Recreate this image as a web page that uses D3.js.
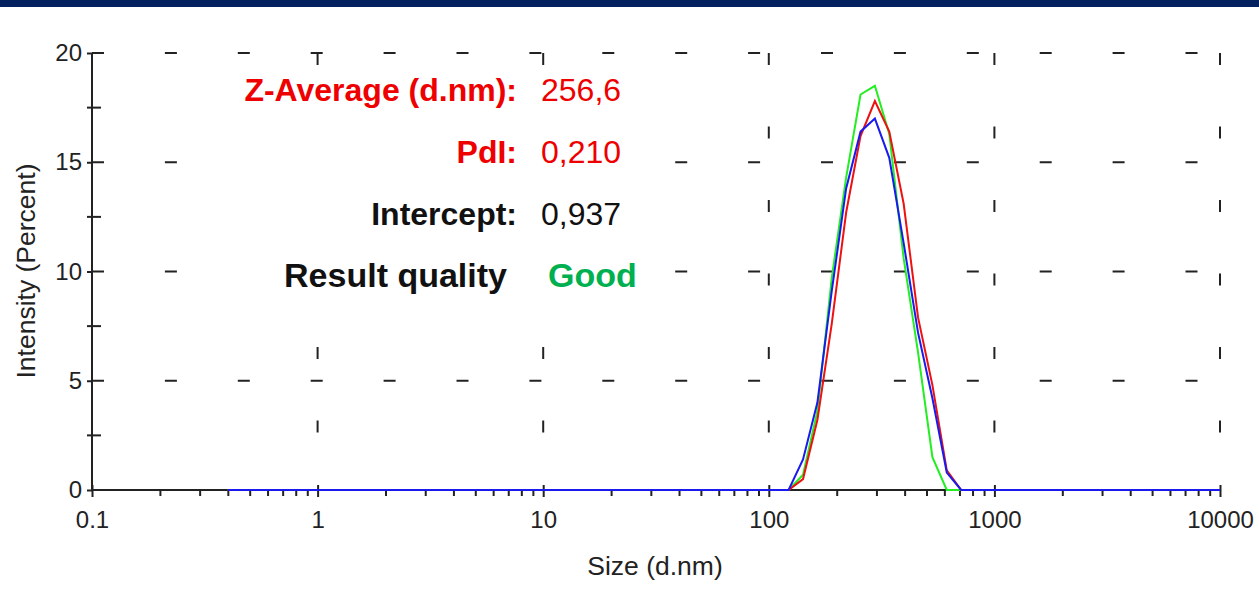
<!DOCTYPE html>
<html>
<head>
<meta charset="utf-8">
<script src="https://cdnjs.cloudflare.com/ajax/libs/d3/7.8.5/d3.min.js"></script>
<style>
  html, body { margin: 0; padding: 0; background: #fff; }
  svg { display: block; font-family: "Liberation Sans", Arial, Helvetica, sans-serif; }
</style>
</head>
<body>
<div id="chart"></div>
<script>
const W = 1259, H = 592;

// size classes (d.nm)
const sizes = [
  0.4, 0.4632, 0.5365, 0.6213, 0.7195, 0.8332, 0.9649, 1.117, 1.294, 1.499,
  1.736, 2.01, 2.328, 2.696, 3.122, 3.615, 4.187, 4.849, 5.615, 6.503,
  7.531, 8.721, 10.1, 11.7, 13.54, 15.69, 18.17, 21.04, 24.36, 28.21,
  32.67, 37.84, 43.82, 50.75, 58.77, 68.06, 78.82, 91.28, 105.7, 122.4,
  141.8, 164.2, 190.1, 220.2, 255, 295.3, 342, 396.1, 458.7, 531.2,
  615.1, 712.4, 825, 955.4, 1106, 1281, 1484, 1718, 1990, 2305,
  2669, 3091, 3580, 4145, 4801, 5560, 6439, 7456, 8635, 10000
];

// intensity (percent), one record each
const greenRun = [
  0,0,0,0,0,0,0,0,0,0, 0,0,0,0,0,0,0,0,0,0,
  0,0,0,0,0,0,0,0,0,0, 0,0,0,0,0,0,0,0,0,0,
  0.7, 3.6, 9.7, 14.3, 18.1, 18.5, 16.3, 10.6, 6.3, 1.5,
  0, 0, 0,0,0,0,0,0,0,0, 0,0,0,0,0,0,0,0,0,0
];
const redRun = [
  0,0,0,0,0,0,0,0,0,0, 0,0,0,0,0,0,0,0,0,0,
  0,0,0,0,0,0,0,0,0,0, 0,0,0,0,0,0,0,0,0,0,
  0.5, 3.2, 7.6, 12.7, 16.2, 17.8, 16.4, 13.1, 7.9, 4.8,
  0.9, 0, 0,0,0,0,0,0,0,0, 0,0,0,0,0,0,0,0,0,0
];
const blueRun = [
  0,0,0,0,0,0,0,0,0,0, 0,0,0,0,0,0,0,0,0,0,
  0,0,0,0,0,0,0,0,0,0, 0,0,0,0,0,0,0,0,0,0,
  1.4, 4.0, 9.1, 13.8, 16.4, 17.0, 15.2, 11.3, 7.2, 4.2,
  0.8, 0, 0,0,0,0,0,0,0,0, 0,0,0,0,0,0,0,0,0,0
];

const xTicks = [0.1, 1, 10, 100, 1000, 10000];
const xTickLabels = ["0.1", "1", "10", "100", "1000", "10000"];
const yTicks = [0, 5, 10, 15, 20];
const yMinor = [2.5, 7.5, 12.5, 17.5];

const resultLabels = ["Z-Average (d.nm):", "PdI:", "Intercept:", "Result quality"];
const resultValues = ["256,6", "0,210", "0,937", "Good"];

const plotL = 92, plotR = 1220, plotT = 53, plotB = 490;

const svg = d3.select("#chart").append("svg")
  .attr("width", W).attr("height", H);

// title bar
svg.append("rect").attr("x", 0).attr("y", 0).attr("width", W).attr("height", 7)
  .attr("fill", "#03205f");

const x = d3.scaleLog().domain([0.1, 10000]).range([plotL, plotR]);
const y = d3.scaleLinear().domain([0, 20]).range([plotB, plotT]);

// dashed grid
svg.append("g").selectAll("line").data(yTicks.filter(d => d > 0)).enter().append("line")
  .attr("x1", plotL).attr("x2", plotR)
  .attr("y1", d => y(d)).attr("y2", d => y(d))
  .attr("stroke", "#222").attr("stroke-width", 2)
  .attr("stroke-dasharray", "12 60.9");

svg.append("g").selectAll("line").data(xTicks.slice(1)).enter().append("line")
  .attr("x1", d => x(d)).attr("x2", d => x(d))
  .attr("y1", plotT).attr("y2", plotB)
  .attr("stroke", "#222").attr("stroke-width", 2)
  .attr("stroke-dasharray", "12 61.5");

// y axis
const yAxis = svg.append("g").attr("transform", "translate(" + plotL + ",0)")
  .call(d3.axisLeft(y).tickValues(yTicks).tickSize(5).tickPadding(5).tickFormat(d3.format("d")));
yAxis.select(".domain").attr("stroke", "#222").attr("stroke-width", 2).attr("d", "M0," + plotB + "V" + plotT);
yAxis.selectAll(".tick line").attr("stroke", "#222").attr("stroke-width", 2);
yAxis.selectAll("text").attr("font-size", 24).attr("fill", "#222").attr("font-family", "Liberation Sans, Arial, sans-serif");

svg.append("g").selectAll("line").data(yMinor).enter().append("line")
  .attr("x1", plotL - 5).attr("x2", plotL + 9)
  .attr("y1", d => y(d)).attr("y2", d => y(d))
  .attr("stroke", "#222").attr("stroke-width", 2);

// x axis
const minor = [];
for (let dec = 0.1; dec < 10000; dec *= 10) {
  for (let k = 2; k <= 9; k++) minor.push(+(dec * k).toPrecision(3));
}
const xAxis = svg.append("g").attr("transform", "translate(0," + plotB + ")")
  .call(d3.axisBottom(x).tickValues(xTicks).tickSize(7).tickPadding(14)
    .tickFormat((d, i) => xTickLabels[i]));
xAxis.select(".domain").attr("stroke", "#222").attr("stroke-width", 2).attr("d", "M" + plotL + ",0H" + plotR);
xAxis.selectAll(".tick line").attr("stroke", "#222").attr("stroke-width", 2).attr("y1", -5);
xAxis.selectAll("text").attr("font-size", 24).attr("fill", "#222").attr("font-family", "Liberation Sans, Arial, sans-serif");

svg.append("g").attr("transform", "translate(0," + plotB + ")")
  .call(d3.axisBottom(x).tickValues(minor).tickSize(6).tickFormat(""))
  .call(g => g.select(".domain").remove())
  .call(g => g.selectAll(".tick line").attr("stroke", "#222").attr("stroke-width", 2));

// axis titles
svg.append("text").attr("x", 655).attr("y", 575)
  .attr("text-anchor", "middle").attr("font-size", 26.5).attr("fill", "#222")
  .text("Size (d.nm)");
svg.append("text").attr("transform", "translate(35,271) rotate(-90)")
  .attr("text-anchor", "middle").attr("font-size", 26.5).attr("fill", "#222")
  .text("Intensity (Percent)");

// result block, white backing hides the grid behind it
svg.append("rect").attr("x", 232).attr("y", 70).attr("width", 428).attr("height", 236)
  .attr("fill", "#fff");

const rowY = [101, 163, 225, 287];
const rowSize = [32, 32, 32, 34];
const labColor = ["#ee0000", "#ee0000", "#111", "#111"];
const valColor = ["#ee0000", "#ee0000", "#111", "#00b050"];
resultLabels.forEach((t, i) => {
  svg.append("text").attr("x", i < 3 ? 517 : 507).attr("y", rowY[i])
    .attr("text-anchor", "end").attr("font-size", rowSize[i]).attr("font-weight", "bold")
    .attr("fill", labColor[i]).text(t);
  svg.append("text").attr("x", i < 3 ? 541 : 548).attr("y", rowY[i])
    .attr("font-size", rowSize[i]).attr("font-weight", i < 3 ? "normal" : "bold")
    .attr("fill", valColor[i]).text(resultValues[i]);
});

// distributions
const line = d3.line().x(d => x(d[0])).y(d => y(d[1]));
const runs = [[greenRun, "#22ee22"], [redRun, "#ee1111"], [blueRun, "#1a1aee"]];
runs.forEach(([vals, col]) => {
  svg.append("path")
    .datum(sizes.map((s, i) => [s, vals[i]]))
    .attr("fill", "none").attr("stroke", col).attr("stroke-width", 2)
    .attr("stroke-linejoin", "miter")
    .attr("d", line);
});
</script>
</body>
</html>
